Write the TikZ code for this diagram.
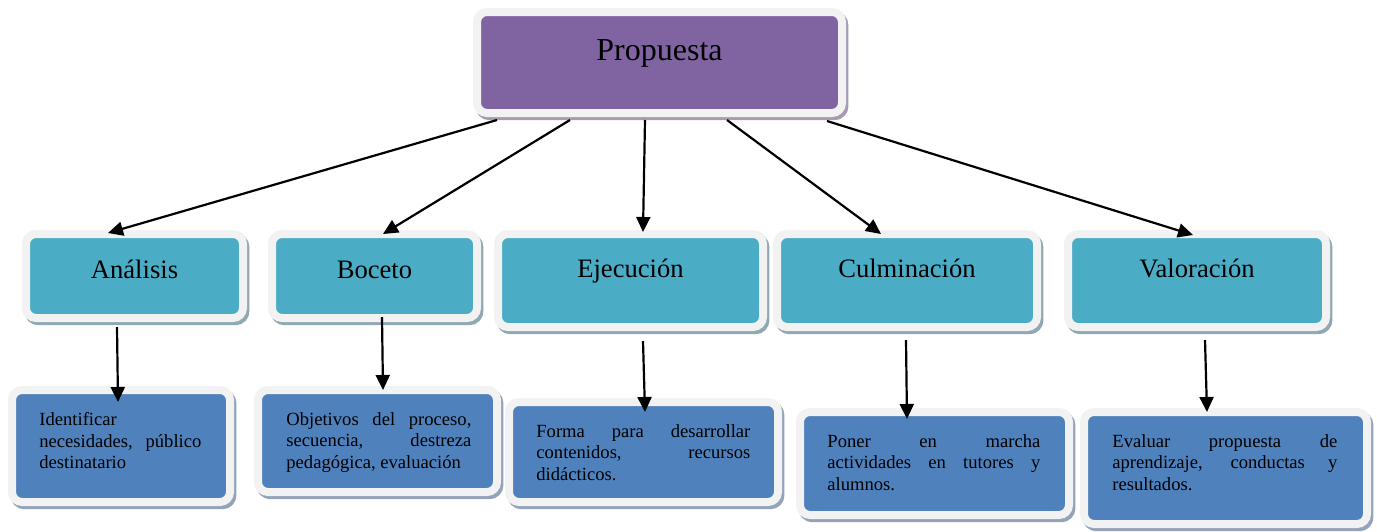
\documentclass[tikz,border=0pt]{standalone}
\usepackage{fontspec}
\setmainfont{Liberation Serif}
\usetikzlibrary{calc,fit,shadows,arrows.meta}
\definecolor{cpurple}{HTML}{8064A2}
\definecolor{cteal}{HTML}{4BACC6}
\definecolor{cblue}{HTML}{4F81BD}
\definecolor{cframe}{HTML}{F2F2F2}
\definecolor{shpurple}{HTML}{A69AB4}
\definecolor{shteal}{HTML}{8FA8B2}
\definecolor{shblue}{HTML}{93A3BB}
\tikzset{
  boxbase/.style={rounded corners=5pt, inner sep=2pt, outer sep=0pt, line width=4pt, draw=cframe},
  propbox/.style={boxbase, fill=cpurple, general shadow={shadow xshift=1.2pt, shadow yshift=-1.6pt, fill=shpurple, draw=shpurple}},
  stagebox/.style={boxbase, fill=cteal, general shadow={shadow xshift=1.2pt, shadow yshift=-1.6pt, fill=shteal, draw=shteal}},
  descbox/.style={boxbase, fill=cblue, general shadow={shadow xshift=1.2pt, shadow yshift=-1.6pt, fill=shblue, draw=shblue}},
  titletext/.style={anchor=base, inner sep=0pt, font=\fontsize{16}{19}\selectfont},
  stagetext/.style={anchor=base, inner sep=0pt, font=\fontsize{13.3}{16}\selectfont},
  desctext/.style={anchor=north west, inner sep=0pt, align=justify, font=\fontsize{9.3}{10.75}\selectfont},
  arr/.style={line width=1.1pt, -{Triangle[length=7.5pt,width=7pt]}},
}
\begin{document}
\begin{tikzpicture}[x=0.5pt,y=-0.5pt]
\useasboundingbox (0,0) rectangle (1377,531);
% top
\node[propbox, fit={(481,16) (838,109)}] (prop) {};
\node[titletext] (tprop) at ($(prop.north)+(0,48)$) {Propuesta};
% stages
\node[stagebox, fit={(30,238) (239,314)}] (ana) {};
\node[stagebox, fit={(276,238) (473,314)}] (bos) {};
\node[stagebox, fit={(502,238) (759,323)}] (eje) {};
\node[stagebox, fit={(781,238) (1033,323)}] (cul) {};
\node[stagebox, fit={(1072,238) (1322,323)}] (val) {};
\node[stagetext] (tana) at ($(ana.north)+(0,44)$) {Análisis};
\node[stagetext] (tbos) at ($(bos.north)+(0,44)$) {Boceto};
\node[stagetext] (teje) at ($(eje.north)+(0,43)$) {Ejecución};
\node[stagetext] (tcul) at ($(cul.north)+(0,43)$) {Culminación};
\node[stagetext] (tval) at ($(val.north)+(0,43)$) {Valoración};
% descriptions
\node[descbox, fit={(16,394) (226,498)}] (d1) {};
\node[descbox, fit={(262,394) (493,488)}] (d2) {};
\node[descbox, fit={(513,406) (774,498)}] (d3) {};
\node[descbox, fit={(804,416) (1065,511)}] (d4) {};
\node[descbox, fit={(1088,416) (1363,520)}] (d5) {};
\node[desctext, text width=81pt] (t1) at ($(d1.north west)+(27,22)$) {Identificar\linebreak necesidades, público\linebreak destinatario};
\node[desctext, text width=92.5pt] (t2) at ($(d2.north west)+(28,22)$) {Objetivos del proceso,\linebreak secuencia, destreza\linebreak pedagógica, evaluación};
\node[desctext, text width=107pt] (t3) at ($(d3.north west)+(27,22)$) {Forma para desarrollar\linebreak contenidos, recursos\linebreak didácticos.};
\node[desctext, text width=106.5pt] (t4) at ($(d4.north west)+(27,22)$) {Poner en marcha\linebreak actividades en tutores y\linebreak alumnos.};
\node[desctext, text width=112.5pt] (t5) at ($(d5.north west)+(28,22)$) {Evaluar propuesta de\linebreak aprendizaje, conductas y\linebreak resultados.};
% arrows from top
\draw[arr] ($(prop.south)+(-162.5,7)$) -- ($(ana.north)+(-26.5,-1)$);
\draw[arr] ($(prop.south)+(-89.5,7)$) -- ($(bos.north)+(8.5,0)$);
\draw[arr] ($(prop.south)+(-14.5,7)$) -- ($(eje.north)+(12.5,-2)$);
\draw[arr] ($(prop.south)+(67.5,7)$) -- ($(cul.north)+(-26,0)$);
\draw[arr] ($(prop.south)+(167.5,8)$) -- ($(val.north)+(-4,1)$);
% vertical arrows
\draw[arr] ($(ana.south)+(-17.5,9)$) -- ($(d1.north)+(-3,12)$);
\draw[arr] ($(bos.south)+(7.5,-1)$) -- ($(d2.north)+(5.5,0)$);
\draw[arr] ($(eje.south)+(12.5,14)$) -- ($(d3.north)+(1.5,10)$);
\draw[arr] ($(cul.south)+(-1,13)$) -- ($(d4.north)+(-27.5,7)$);
\draw[arr] ($(val.south)+(8,13)$) -- ($(d5.north)+(-18.5,0)$);
\end{tikzpicture}
\end{document}
